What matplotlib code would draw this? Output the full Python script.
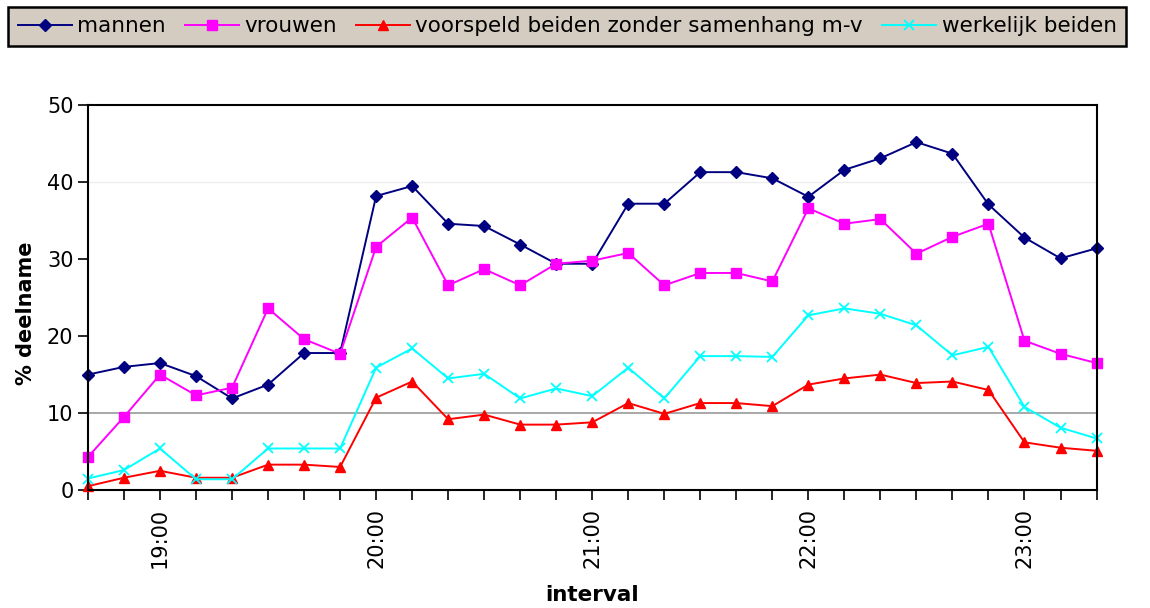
import numpy as np
import matplotlib
matplotlib.use('Agg')
import matplotlib.pyplot as plt

plt.rcParams['font.family'] = ['DejaVu Sans']

intervals = ['18:40', '18:50', '19:00', '19:10', '19:20', '19:30', '19:40', '19:50',
             '20:00', '20:10', '20:20', '20:30', '20:40', '20:50',
             '21:00', '21:10', '21:20', '21:30', '21:40', '21:50',
             '22:00', '22:10', '22:20', '22:30', '22:40', '22:50',
             '23:00', '23:10', '23:20']

mannen = [15.0, 16.0, 16.5, 14.8, 11.9, 13.7, 17.8, 17.8,
          38.2, 39.5, 34.6, 34.3, 31.9, 29.4,
          29.4, 37.2, 37.2, 41.3, 41.3, 40.5,
          38.1, 41.6, 43.1, 45.2, 43.7, 37.1,
          32.8, 30.1, 31.4]
vrouwen = [4.3, 9.5, 15.0, 12.3, 13.3, 23.6, 19.6, 17.7,
           31.6, 35.4, 26.6, 28.7, 26.6, 29.4,
           29.8, 30.8, 26.6, 28.2, 28.2, 27.1,
           36.6, 34.6, 35.2, 30.7, 32.9, 34.6,
           19.4, 17.7, 16.5]
voorspeld = [0.5, 1.6, 2.5, 1.6, 1.6, 3.3, 3.3, 3.0,
             12.0, 14.1, 9.2, 9.8, 8.5, 8.5,
             8.8, 11.3, 9.9, 11.3, 11.3, 10.9,
             13.7, 14.5, 15.0, 13.9, 14.1, 13.0,
             6.2, 5.5, 5.1]
werkelijk = [1.5, 2.6, 5.4, 1.4, 1.4, 5.4, 5.4, 5.4,
             15.9, 18.4, 14.5, 15.1, 11.9, 13.2,
             12.2, 15.9, 11.9, 17.4, 17.4, 17.3,
             22.7, 23.6, 22.9, 21.4, 17.5, 18.6,
             10.8, 8.1, 6.7]

x = np.arange(len(intervals))

fig = plt.figure(figsize=(11.5, 6.08), dpi=100)
ax = fig.add_axes([0.0765, 0.194, 0.877, 0.633])

# grid lines as they show up in the original
ax.axhline(10, color='#999999', lw=1.2, zorder=0)
ax.axhline(40, color='#eeeeee', lw=1.0, zorder=0)

ax.plot(x, mannen, color='#000080', marker='D', ms=6, lw=1.4, label='mannen', clip_on=False)
ax.plot(x, vrouwen, color='#ff00ff', marker='s', ms=7, lw=1.4, label='vrouwen', clip_on=False)
ax.plot(x, voorspeld, color='#ff0000', marker='^', ms=7, lw=1.4,
        label='voorspeld beiden zonder samenhang m-v', clip_on=False)
ax.plot(x, werkelijk, color='#00ffff', marker='x', ms=7, mew=1.3, lw=1.4,
        label='werkelijk beiden', clip_on=False)

ax.set_xlim(0, len(intervals) - 1)
ax.set_ylim(0, 50)
ax.set_yticks(np.arange(0, 51, 10))
ax.set_xticks(x)
ax.set_xticklabels([t if t.endswith(':00') else '' for t in intervals], rotation=90)
ax.tick_params(axis='both', direction='out', length=7, width=1.2, labelsize=15)
ax.tick_params(axis='x', pad=6)
for s in ax.spines.values():
    s.set_linewidth(1.5)

ax.set_ylabel('% deelname', fontsize=15, fontweight='bold')
ax.yaxis.set_label_coords(-0.052, 0.46)
ax.set_xlabel('interval', fontsize=15.5, fontweight='bold', labelpad=12)

leg = fig.legend(loc='upper left', bbox_to_anchor=(0.007, 0.989), ncol=4,
                 fontsize=15.5, frameon=True, fancybox=False, edgecolor='black',
                 facecolor='#d4ccc0', framealpha=1, handlelength=2.5,
                 columnspacing=0.9, handletextpad=0.25, borderpad=0.45,
                 borderaxespad=0)
leg.get_frame().set_linewidth(1.8)

fig.savefig('out.png', dpi=100)
